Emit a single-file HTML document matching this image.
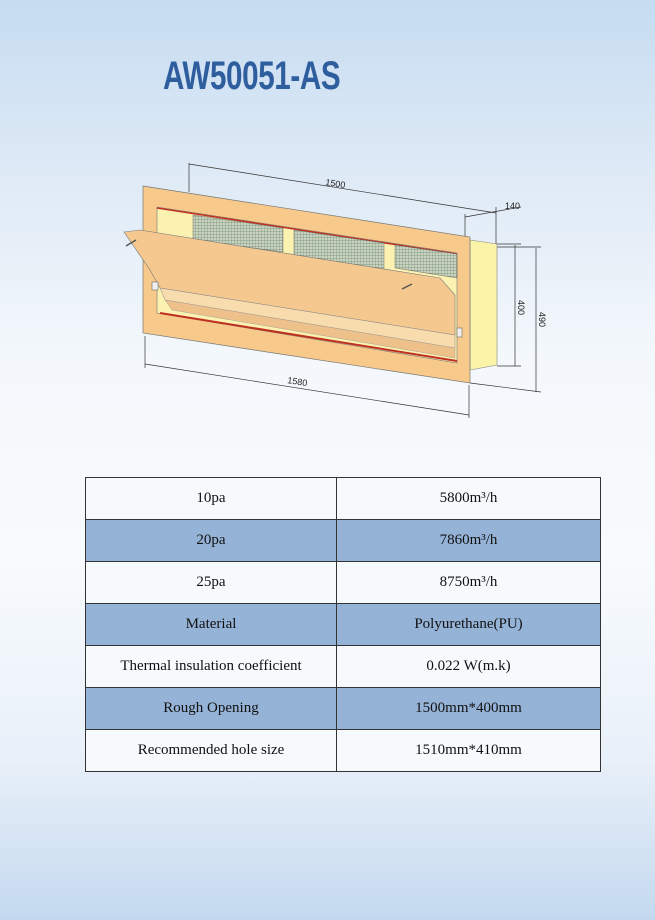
<!DOCTYPE html>
<html><head><style>
html,body{margin:0;padding:0}
body{width:655px;height:920px;position:relative;overflow:hidden;font-family:"Liberation Serif",serif;
background:linear-gradient(to bottom,#c6dcf1 0px,#dbe8f5 150px,#f4f8fc 360px,#f8fbfd 560px,#e8f0f9 760px,#c4d9ef 920px);}
.title{position:absolute;left:163px;top:54px;width:177px;height:44px;font-family:"Liberation Sans",sans-serif;font-weight:bold;font-size:40px;color:#2f5e9f;line-height:44px;white-space:nowrap;transform-origin:left top;transform:scaleX(0.74);letter-spacing:-0.5px}
table{position:absolute;left:85px;top:477px;border-collapse:collapse;width:516px}
td{border:1px solid #333;height:41px;padding:0;text-align:center;font-size:15px;color:#111}
tr.w td{background:#f7fafd}
tr.b td{background:#95b3d7}
td:first-child{width:250px}
</style></head><body>
<div class="title">AW50051-AS</div>
<svg style="position:absolute;left:0;top:0" width="655" height="460" viewBox="0 0 655 460">
<defs>
<pattern id="g" width="3" height="3" patternUnits="userSpaceOnUse">
<rect width="3" height="3" fill="#c9d3c0"/>
<path d="M0 0H3M0 0V3" stroke="#6f8a72" stroke-width="0.7"/>
</pattern>
</defs>
<g stroke="#333" stroke-width="0.7" fill="none">
<line x1="189" y1="164" x2="496" y2="213"/>
<line x1="189" y1="163" x2="189" y2="192"/>
<line x1="496" y1="207" x2="496" y2="244"/>
<line x1="465" y1="217" x2="521" y2="207"/>
<line x1="465" y1="214" x2="465" y2="240"/>
<line x1="495" y1="244" x2="521" y2="244"/>
<line x1="515" y1="245" x2="515" y2="366"/>
<line x1="497" y1="366" x2="521" y2="366"/>
<line x1="470" y1="247" x2="541" y2="247"/>
<line x1="536" y1="248" x2="536" y2="392"/>
<line x1="470" y1="383" x2="541" y2="392"/>
<line x1="145" y1="364" x2="469" y2="415"/>
<line x1="145" y1="336" x2="145" y2="368"/>
<line x1="469" y1="385" x2="469" y2="418"/>
</g>
<g font-family="Liberation Sans,sans-serif" font-size="9" fill="#222">
<text x="325" y="185" transform="rotate(9 325 185)">1500</text>
<text x="505" y="209">140</text>
<text x="518" y="300" transform="rotate(90 518 300)">400</text>
<text x="539" y="312" transform="rotate(90 539 312)">490</text>
<text x="287" y="383" transform="rotate(9 287 383)">1580</text>
</g>
<polygon points="470,240 497,244 497,365 470,370" fill="#fbf3a8" stroke="#888" stroke-width="0.6"/>
<polygon points="143,186 470,237 470,383 143,333" fill="#f7c98a" stroke="#777" stroke-width="0.7"/>
<polygon points="157,207 457,253 457,363 157,313" fill="#fbf1b0" stroke="#777" stroke-width="0.6"/>
<line x1="157" y1="208" x2="457" y2="254" stroke="#c03020" stroke-width="1.5"/>
<line x1="160" y1="313" x2="457" y2="361" stroke="#c03020" stroke-width="2"/>
<g fill="url(#g)" stroke="#555" stroke-width="0.4">
<polygon points="193,215 283,228 283,252 193,240"/>
<polygon points="294,230 384,243 384,270 294,258"/>
<polygon points="395,245 457,254 457,278 395,268"/>
</g>
<polygon points="124,232 140,230 440,278 455,295 455,335 442,333 160,288 150,270" fill="#f5c88f" stroke="#777" stroke-width="0.6"/>
<polygon points="160,288 455,335 455,348 165,300" fill="#f9dcae" stroke="#888" stroke-width="0.5"/>
<polygon points="165,300 455,348 455,358 172,310" fill="#eec08a" stroke="#999" stroke-width="0.4"/>
<rect x="152" y="282" width="6" height="8" fill="#eee" stroke="#555" stroke-width="0.5"/>
<rect x="457" y="328" width="5" height="9" fill="#eee" stroke="#555" stroke-width="0.5"/>
<line x1="126" y1="246" x2="136" y2="240" stroke="#555" stroke-width="1.5"/>
<line x1="402" y1="289" x2="412" y2="284" stroke="#555" stroke-width="1.5"/>
</svg>
<table>
<tr class="w"><td>10pa</td><td>5800m³/h</td></tr>
<tr class="b"><td>20pa</td><td>7860m³/h</td></tr>
<tr class="w"><td>25pa</td><td>8750m³/h</td></tr>
<tr class="b"><td>Material</td><td>Polyurethane(PU)</td></tr>
<tr class="w"><td>Thermal insulation coefficient</td><td>0.022 W(m.k)</td></tr>
<tr class="b"><td>Rough Opening</td><td>1500mm*400mm</td></tr>
<tr class="w"><td>Recommended hole size</td><td>1510mm*410mm</td></tr>
</table>
</body></html>
